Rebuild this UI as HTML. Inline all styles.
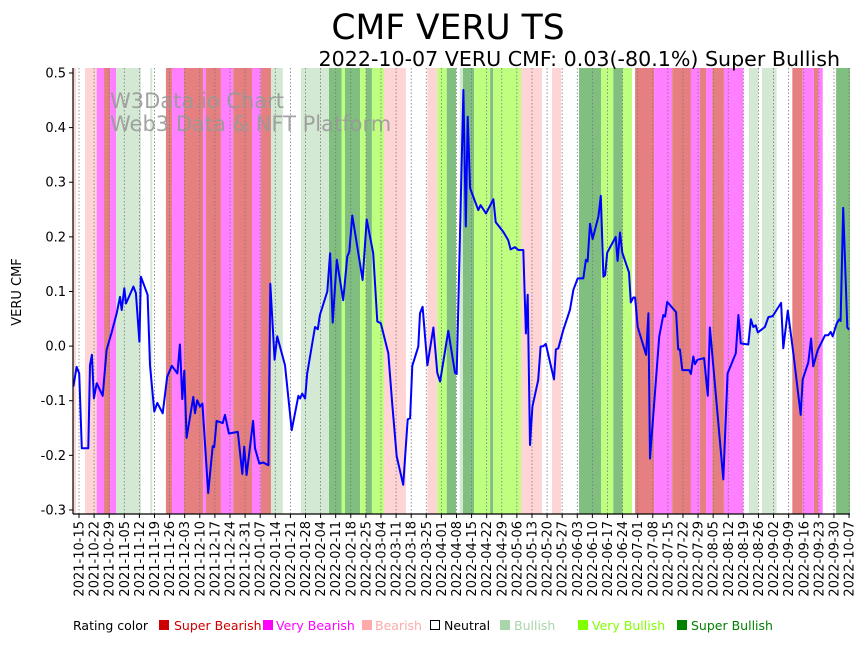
<!DOCTYPE html>
<html><head><meta charset="utf-8"><style>
body{margin:0;background:#fff;width:864px;height:641px;overflow:hidden;font-family:"Liberation Sans","DejaVu Sans",sans-serif}
svg text{font-family:"DejaVu Sans","Liberation Sans",sans-serif}
</style></head><body>
<svg id="chart" width="864" height="641" viewBox="0 0 864 641">
<g id="bands"></g>
<g id="grid"></g>
<text x="110" y="108" font-size="21" fill="#999" fill-opacity="0.9">W3Data.io Chart</text>
<text x="110" y="131" font-size="21" fill="#999" fill-opacity="0.9">Web3 Data &amp; NFT Platform</text>
<g id="line"></g>
<g id="axes"></g>
<text x="448" y="39" font-size="34.5" text-anchor="middle">CMF VERU TS</text>
<text x="840" y="66" font-size="20.6" text-anchor="end">2022-10-07 VERU CMF: 0.03(-80.1%) Super Bullish</text>
<text transform="translate(21,292) rotate(-90)" font-size="13" text-anchor="middle">VERU CMF</text>
<g id="legend" font-size="12.5">
<text x="73" y="630">Rating color</text>
<g><rect x="159" y="620" width="10" height="10" fill="#cc0000"/><text x="174" y="630" fill="#cc0000">Super Bearish</text></g>
<g><rect x="263" y="620" width="10" height="10" fill="#ff00ff"/><text x="276" y="630" fill="#ff00ff">Very Bearish</text></g>
<g><rect x="362" y="620" width="10" height="10" fill="#ffaaaa"/><text x="375" y="630" fill="#ffaaaa">Bearish</text></g>
<g><rect x="430.5" y="620.5" width="9" height="9" fill="none" stroke="#000"/><text x="444" y="630" fill="#000">Neutral</text></g>
<g><rect x="500" y="620" width="10" height="10" fill="#aad5aa"/><text x="514" y="630" fill="#aad5aa">Bullish</text></g>
<g><rect x="578" y="620" width="10" height="10" fill="#80ff00"/><text x="592" y="630" fill="#80ff00">Very Bullish</text></g>
<g><rect x="677" y="620" width="10" height="10" fill="#008000"/><text x="691" y="630" fill="#008000">Super Bullish</text></g>
</g>
</svg>
<script>
// day offsets from 2021-10-15
const bandStart=[-2.8,2.8,8.2,11.6,14.4,17.2,33,40.3,43.1,48.7,57.6,58.9,65.8,71.5,80.2,84.4,89,102.9,115.9,121.8,123.3,130.3,133,135.8,141.4,161.5,166.1,170.5,176.5,178,183.2,190.6,192,204.9,219.3,231.8,242,247.7,252,257.8,266.6,275,283.7,287.9,290.7,293.6,299,310.6,316.6,330.7,335.5,340.7,342.6,351];
const bandEnd=[-1.4,8.2,11.6,14.4,17.2,28.7,34,43.1,48.7,57.6,58.9,65.8,71.5,80.2,84.4,89,94.5,115.9,121.8,123.3,130.3,133,135.8,141.4,151.6,166.1,170.5,174.8,178,183.2,190.6,192,204.9,214.6,223.5,242,247.7,252,256.4,266.6,275,283.7,287.9,290.7,293.6,299,308,314.9,323.4,335.5,340.7,342.6,344.8,357.6];
const bandRating=["B","B","VBe","SBe","VBe","Bu","Bu","SBe","VBe","SBe","VBe","SBe","VBe","SBe","VBe","SBe","Bu","Bu","SBu","VBu","SBu","VBu","SBu","VBu","B","B","VBu","SBu","Bu","SBu","VBu","SBu","VBu","B","B","SBu","VBu","SBu","VBu","SBe","VBe","SBe","VBe","SBe","VBe","SBe","VBe","Bu","Bu","SBe","VBe","SBe","VBe","SBu"];
const ratingColor={SBe:"#e67f7f",VBe:"#ff80ff",B:"#ffd4d4",Bu:"#d4e9d4",VBu:"#bfff80",SBu:"#80bf80"};
const days=[-2.6,-1.1,0.1,1.3,4.3,5.1,6.0,6.9,8.2,11.0,12.8,15.2,17.5,19.0,19.8,21.0,21.8,25.2,26.4,28.0,28.7,31.8,32.9,34.9,36.3,38.8,40.9,43.0,45.6,46.8,47.9,48.8,49.9,53.0,53.8,54.8,56.1,57.2,59.9,62.0,62.7,63.8,66.6,67.7,69.5,73.6,75.7,76.6,77.7,80.7,81.6,83.6,85.4,87.8,88.7,90.7,91.9,95.5,98.6,101.7,102.5,103.5,104.8,105.8,109.4,110.7,111.7,115.1,116.4,117.6,119.5,122.5,124.4,125.3,126.7,131.5,133.4,136.4,138.3,139.9,143.4,145.2,147.3,150.3,152.4,153.5,154.5,157.3,158.1,159.3,161.5,164.3,166.1,167.4,171.2,174.3,175.1,178.2,179.3,180.2,181.3,185.1,186.2,188.7,192.1,193.2,196.7,199.0,200.1,202.1,203.7,206.0,207.2,208.0,209.1,210.2,212.9,214.0,215.3,216.4,220.2,221.1,222.2,224.5,227.6,229.2,231.2,233.8,235.0,235.8,236.9,238.1,240.8,241.9,243.1,243.9,244.9,248.8,249.7,250.8,251.9,255.0,255.8,257.0,257.8,259.0,262.9,264.0,264.7,269.0,270.9,271.7,272.7,276.8,277.8,278.6,279.7,282.9,283.7,284.8,285.6,286.7,289.8,291.5,292.5,298.7,300.7,304.5,305.7,306.8,310.3,311.5,312.6,313.7,314.7,318.0,319.6,321.6,325.5,326.5,328.6,331.2,334.6,335.5,338.1,339.4,340.4,342.5,345.9,347.4,348.5,349.4,351.3,352.5,353.1,354.3,356.2,357.0];
const cmf=[-0.074,-0.038,-0.05,-0.187,-0.187,-0.035,-0.016,-0.096,-0.068,-0.091,-0.007,0.026,0.06,0.09,0.066,0.106,0.078,0.109,0.097,0.008,0.127,0.094,-0.035,-0.12,-0.104,-0.123,-0.056,-0.036,-0.05,0.003,-0.097,-0.045,-0.168,-0.093,-0.123,-0.099,-0.111,-0.105,-0.269,-0.183,-0.185,-0.137,-0.141,-0.126,-0.16,-0.157,-0.234,-0.184,-0.236,-0.137,-0.187,-0.215,-0.213,-0.218,0.114,-0.025,0.018,-0.035,-0.154,-0.091,-0.096,-0.087,-0.096,-0.05,0.035,0.031,0.057,0.1,0.17,0.043,0.158,0.084,0.164,0.173,0.239,0.121,0.232,0.17,0.045,0.042,-0.013,-0.105,-0.202,-0.254,-0.134,-0.132,-0.036,-0.001,0.06,0.072,-0.035,0.034,-0.049,-0.065,0.028,-0.049,-0.051,0.469,0.219,0.42,0.289,0.249,0.258,0.243,0.269,0.227,0.209,0.194,0.177,0.181,0.176,0.176,0.023,0.094,-0.181,-0.111,-0.062,-0.001,0,0.004,-0.061,-0.006,-0.004,0.029,0.066,0.103,0.124,0.124,0.158,0.155,0.224,0.196,0.237,0.275,0.127,0.13,0.171,0.2,0.156,0.208,0.171,0.135,0.08,0.089,0.089,0.035,-0.016,0.06,-0.206,0.017,0.057,0.054,0.081,0.062,-0.006,-0.006,-0.044,-0.044,-0.051,-0.019,-0.033,-0.025,-0.022,-0.091,0.034,-0.244,-0.05,-0.013,0.057,0.005,0.003,0.049,0.035,0.038,0.025,0.035,0.053,0.055,0.079,-0.004,0.065,-0.014,-0.126,-0.061,-0.03,0.014,-0.037,-0.007,0.02,0.02,0.026,0.018,0.042,0.049,0.046,0.253,0.034,0.03];
const yTicks=[-0.3,-0.2,-0.1,0.0,0.1,0.2,0.3,0.4,0.5];
const xTickLabels=["2021-10-15","2021-10-22","2021-10-29","2021-11-05","2021-11-12","2021-11-19","2021-11-26","2021-12-03","2021-12-10","2021-12-17","2021-12-24","2021-12-31","2022-01-07","2022-01-14","2022-01-21","2022-01-28","2022-02-04","2022-02-11","2022-02-18","2022-02-25","2022-03-04","2022-03-11","2022-03-18","2022-03-25","2022-04-01","2022-04-08","2022-04-15","2022-04-22","2022-04-29","2022-05-06","2022-05-13","2022-05-20","2022-05-27","2022-06-03","2022-06-10","2022-06-17","2022-06-24","2022-07-01","2022-07-08","2022-07-15","2022-07-22","2022-07-29","2022-08-05","2022-08-12","2022-08-19","2022-08-26","2022-09-02","2022-09-09","2022-09-16","2022-09-23","2022-09-30","2022-10-07"];

const NS="http://www.w3.org/2000/svg";
const L=73,R=850,T=68,B=514;
const day0=new Date("2021-10-15T00:00:00Z").getTime();
function xs(d){return 79+d*2.157;}
function ys(v){return 346.1-v*546.25;}
function dayOf(s){return (new Date(s+"T00:00:00Z").getTime()-day0)/86400000;}
function mk(tag,attrs,parent){const e=document.createElementNS(NS,tag);for(const k in attrs)e.setAttribute(k,attrs[k]);parent.appendChild(e);return e;}

const gB=document.getElementById("bands");
for(let i=0;i<bandStart.length;i++){
  const x1=Math.max(L,xs(bandStart[i])),x2=Math.min(R,xs(bandEnd[i]));
  const r=mk("rect",{x:x1,y:T,width:Math.max(0,x2-x1),height:B-T,fill:ratingColor[bandRating[i]]},gB);
  
  
}
const gG=document.getElementById("grid");
const gA=document.getElementById("axes");
xTickLabels.forEach(s=>{
  const x=xs(dayOf(s));
  const g=mk("line",{x1:x,x2:x,y1:T,y2:B,stroke:"#777","stroke-width":0.8,"stroke-dasharray":"1.5,2"},gG);
  
  
  mk("line",{x1:x,x2:x,y1:B,y2:B+4,stroke:"#000","stroke-width":1},gA);
  const t=mk("text",{transform:`translate(${x+4.5},${B+7}) rotate(-90)`,"font-size":"13","text-anchor":"end"},gA);
  t.textContent=s;
  
  
});
yTicks.forEach(v=>{
  const y=ys(v);
  mk("line",{x1:L-4,x2:L,y1:y,y2:y,stroke:"#000","stroke-width":1},gA);
  const t=mk("text",{x:L-7,y:y+4.5,"font-size":"13","text-anchor":"end"},gA);
  t.textContent=v.toFixed(1);
  
  
});
mk("line",{x1:L,x2:L,y1:T,y2:B,stroke:"#000","stroke-width":1.2},gA);
mk("line",{x1:L,x2:R,y1:B,y2:B,stroke:"#000","stroke-width":1.2},gA);

const gL=document.getElementById("line");
const pts=days.map((d,i)=>xs(d).toFixed(1)+","+ys(cmf[i]).toFixed(1)).join(" ");
const pl=mk("polyline",{points:pts,fill:"none",stroke:"#0000ff","stroke-width":2,"stroke-linejoin":"round"},gL);


</script>
</body></html>
